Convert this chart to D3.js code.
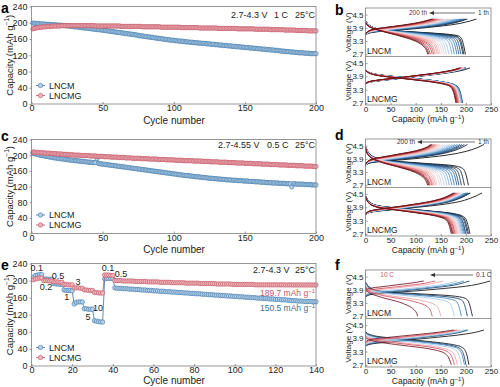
<!DOCTYPE html>
<html>
<head>
<meta charset="utf-8">
<script src="https://cdn.jsdelivr.net/npm/d3@7"></script>
<style>
  body { margin: 0; background: #fff; }
  svg { display: block; font-family: "Liberation Sans", Arial, sans-serif; }
</style>
</head>
<body>
<svg id="fig" width="500" height="387"></svg>
<script>
// ---------- cycling data (mAh g-1, one value per cycle) ----------
const aLNCM = [
  199,199,198,198,198,197,197,197,197,196, 196,196,196,195,195,195,195,194,194,194,
  194,193,193,193,192,192,192,191,191,190, 190,190,189,189,188,188,187,187,187,186,
  186,185,185,184,184,183,183,183,182,182, 181,181,180,180,179,179,178,178,177,177,
  176,176,175,175,174,174,173,173,172,172, 171,171,170,170,169,168,168,167,167,166,
  166,165,165,164,164,163,163,162,162,161, 161,160,160,159,159,158,158,157,157,157,
  156,156,155,155,155,154,154,153,153,153, 152,152,152,151,151,151,150,150,150,149,
  149,149,148,148,148,147,147,147,146,146, 146,145,145,145,144,144,144,143,143,143,
  142,142,142,141,141,141,140,140,140,139, 139,139,138,138,138,137,137,137,136,136,
  136,135,135,135,134,134,134,133,133,133, 132,132,132,131,131,130,130,130,129,129,
  129,128,128,128,127,127,127,126,126,126, 126,125,125,125,125,124,124,124,124,124
];
const aLNCMG = [
  185,186,187,188,188,189,189,190,190,190, 191,191,191,191,192,192,192,192,192,192,
  193,193,193,193,193,193,193,193,193,193, 193,193,193,193,193,193,193,193,193,193,
  193,193,193,193,192,192,192,192,192,192, 192,192,192,192,192,192,192,192,192,192,
  192,192,191,191,191,191,191,191,191,191, 191,191,191,191,191,191,191,190,190,190,
  190,190,190,190,190,190,190,190,190,190, 189,189,189,189,189,189,189,189,189,189,
  189,189,189,189,188,188,188,188,188,188, 188,188,188,188,188,188,188,187,187,187,
  187,187,187,187,187,187,187,187,187,187, 186,186,186,186,186,186,186,186,186,186,
  186,186,186,186,185,185,185,185,185,185, 185,185,185,185,185,185,184,184,184,184,
  184,184,184,184,184,184,184,183,183,183, 183,183,183,183,183,183,183,182,182,182,
  182,182,182,182,182,181,181,181,181,181, 181,181,181,180,180,180,180,180,180,180
];
const cLNCM = [
  205,204,203,202,201,200,199,199,198,197, 197,196,195,195,194,193,193,192,192,191,
  191,190,190,189,189,188,188,187,187,186, 186,186,185,185,184,184,184,183,183,182,
  182,182,181,181,181,191,179,178,178,177, 177,176,176,175,175,174,174,173,173,172,
  172,171,171,170,170,169,169,168,168,167, 167,166,166,165,165,164,164,163,163,162,
  162,161,161,160,160,159,159,158,158,157, 157,156,156,155,155,154,154,153,153,152,
  152,151,151,150,150,149,149,148,148,148, 147,147,146,146,145,145,145,144,144,143,
  143,143,142,142,141,141,141,140,140,140, 139,139,139,138,138,138,137,137,137,137,
  136,136,136,136,135,135,135,135,134,134, 134,134,133,133,133,133,132,132,132,132,
  131,131,131,131,130,130,130,130,129,129, 129,129,129,128,128,128,128,128,127,127,
  127,127,119,127,127,126,126,126,126,126, 126,125,125,125,125,125,124,124,124,124
];
const cLNCMG = [
  208,208,207,207,207,206,206,206,206,205, 205,205,205,204,204,204,204,203,203,203,
  203,202,202,202,202,201,201,201,201,200, 200,200,200,200,199,199,199,199,199,199,
  198,198,198,198,198,197,197,197,197,197, 196,196,196,196,196,195,195,195,195,195,
  194,194,194,194,194,193,193,193,193,193, 192,192,192,192,192,192,191,191,191,191,
  191,191,190,190,190,190,190,190,189,189, 189,189,189,189,188,188,188,188,188,188,
  187,187,187,187,187,187,186,186,186,186, 186,186,186,185,185,185,185,185,185,184,
  184,184,184,184,184,183,183,183,183,183, 183,182,182,182,182,182,182,181,181,181,
  181,181,181,180,180,180,180,180,180,179, 179,179,179,179,179,178,178,178,178,178,
  178,177,177,177,177,177,177,176,176,176, 176,176,176,175,175,175,175,175,175,174,
  174,174,174,174,174,173,173,173,173,173, 173,172,172,172,172,172,172,171,171,171
];
const eLNCM = [
  208,212,213,214,214, 204,204,203,203,203, 193,192,192,191,191, 178,177,177,177,176,
  145,149,150,150,150, 134,134,133,133,133, 106,105,104,103,103, 204,205,205,205,205,
  183,182,182,182,181,181,181,180,180,180, 179,179,179,178,178,178,177,177,177,176,
  176,176,175,175,175,174,174,174,173,173, 173,172,172,172,171,171,171,170,170,170,
  169,169,169,168,168,168,167,167,167,166, 166,166,165,165,165,164,164,164,163,163,
  163,162,162,162,161,161,161,160,160,160, 159,159,159,158,158,158,157,157,157,156,
  156,156,155,155,155,154,154,153,153,153, 152,152,152,151,151,151,151,151,150.5,150.5
];
const eLNCMG = [
  202,204,205,206,206, 200,200,200,199,199, 197,197,197,196,196, 191,191,190,190,190,
  183,183,183,182,182, 178,178,177,177,177, 172,172,171,171,171, 213,213,213,212,212,
  200,200,200,200,199,199,199,199,199,199, 198,198,198,198,198,198,197,197,197,197,
  197,197,196,196,196,196,196,196,195,195, 195,195,195,195,195,194,194,194,194,194,
  194,194,193,193,193,193,193,193,193,193, 192,192,192,192,192,192,192,192,191,191,
  191,191,191,191,191,191,191,191,191,190, 190,190,190,190,190,190,190,190,190,190,
  190,190,190,190,189.9,189.9,189.9,189.8,189.8,189.8, 189.8,189.8,189.8,189.8,189.7,189.7,189.7,189.7,189.7,189.7
];
const capTicks = [0, 40, 80, 120, 160, 200, 240];

// rate labels of panel e: text, cycle, capacity where the label sits
const rateText = ['0.1', '0.2', '0.5', '1', '3', '5', '10', '0.1', '0.5'];
const rateCycle = [2.6, 7.1, 13, 17.3, 22.9, 27.8, 32.7, 37.6, 44];
const rateCap = [229, 186, 211, 162, 197, 116, 136, 229, 215];

// ---------- voltage profiles ----------
// fractional capacity grids for discharge and charge
const disGrid = [0, 0.02, 0.05, 0.1, 0.2, 0.35, 0.5, 0.65, 0.8, 0.88, 0.93, 0.96, 0.98, 1];
const chgGrid = [0, 0.03, 0.1, 0.25, 0.4, 0.55, 0.7, 0.85, 0.95, 1];
const profCycles = [1, 10, 20, 30, 40, 50, 60, 70, 80, 90, 100, 110, 120, 130, 140, 150, 160, 170, 180, 190, 200];

// b, LNCM
const bM_dis = [199,196,194,190,186,182,177,172,166,161,157,153,149,146,143,139,136,133,129,126,124];
const bM_chg = [221,203,200,197,193,189,184,179,174,169,165,161,157,154,151,147,144,141,137,135,133];
const bM_disFirst = [4.22,4.1,3.98,3.88,3.8,3.75,3.71,3.67,3.62,3.58,3.53,3.42,3.15,2.7];
const bM_disLast  = [4.15,4.05,3.97,3.9,3.8,3.68,3.57,3.45,3.3,3.18,3.07,2.97,2.87,2.7];
const bM_chgFirst = [3.58,3.66,3.72,3.78,3.84,3.91,3.99,4.1,4.22,4.3];
const bM_chgLast  = [3.62,3.72,3.82,3.9,3.96,4.02,4.09,4.18,4.26,4.3];
// b, LNCMG
const bG_dis = [185,190,192,193,193,192,192,191,190,189,189,188,187,186,186,185,184,183,182,181,180];
const bG_chg = [208,197,199,200,200,199,199,198,197,196,196,195,194,193,193,192,191,190,189,188,187];
const bG_disFirst = [4.2,4.12,4.06,4.0,3.94,3.87,3.81,3.74,3.65,3.58,3.5,3.38,3.15,2.7];
const bG_disLast  = [4.18,4.1,4.03,3.97,3.9,3.83,3.76,3.69,3.6,3.53,3.45,3.32,3.1,2.7];
const bG_chgFirst = [3.55,3.62,3.68,3.76,3.84,3.92,4.0,4.1,4.2,4.28];
const bG_chgLast  = [3.58,3.65,3.71,3.79,3.86,3.94,4.02,4.12,4.21,4.28];
// d, LNCM
const dM_dis = [205,197,191,186,182,177,172,167,162,157,152,148,143,140,137,134,132,129,127,126,124];
const dM_chg = [236,203,197,192,188,183,178,173,168,163,158,154,149,146,143,140,138,135,133,132,130];
const dM_disFirst = [4.45,4.25,4.08,3.95,3.84,3.77,3.72,3.67,3.62,3.57,3.5,3.38,3.12,2.7];
const dM_disLast  = [4.4,4.2,4.05,3.93,3.8,3.66,3.55,3.43,3.28,3.16,3.05,2.95,2.85,2.7];
const dM_chgFirst = [3.6,3.7,3.76,3.83,3.9,3.98,4.08,4.24,4.42,4.55];
const dM_chgLast  = [3.65,3.78,3.88,3.98,4.06,4.14,4.22,4.33,4.45,4.55];
// d, LNCMG
const dG_dis = [208,205,203,200,199,197,195,193,191,189,188,186,184,183,181,179,178,176,174,173,171];
const dG_chg = [232,209,207,204,203,201,199,197,195,193,192,190,188,187,185,183,182,180,178,177,175];
const dG_disFirst = [4.42,4.25,4.1,4.0,3.92,3.85,3.79,3.72,3.65,3.58,3.5,3.38,3.12,2.7];
const dG_disLast  = [4.38,4.2,4.05,3.95,3.86,3.78,3.7,3.62,3.52,3.44,3.35,3.22,3.02,2.7];
const dG_chgFirst = [3.58,3.66,3.72,3.8,3.88,3.96,4.06,4.22,4.42,4.55];
const dG_chgLast  = [3.6,3.7,3.78,3.87,3.95,4.04,4.14,4.28,4.44,4.55];
// f, rate profiles 0.1 C ... 10 C
const rates = ['0.1', '0.2', '0.5', '1', '3', '5', '10'];
const rateWeight = [0, 0.1, 0.2, 0.35, 0.6, 0.75, 1];
const fM_dis = [213,203,191,177,150,133,104];
const fM_chg = [248,207,196,182,155,139,116];
const fM_disFirst = [4.25,4.1,3.97,3.88,3.81,3.76,3.72,3.68,3.63,3.58,3.52,3.4,3.12,2.7];
const fM_disLast  = [4.0,3.88,3.8,3.73,3.64,3.53,3.44,3.34,3.2,3.1,3.0,2.92,2.84,2.7];
const fM_chgFirst = [3.58,3.67,3.73,3.79,3.85,3.92,4.0,4.1,4.22,4.3];
const fM_chgLast  = [3.85,3.93,3.98,4.03,4.08,4.13,4.18,4.23,4.28,4.3];
const fG_dis = [206,200,197,191,183,177,171];
const fG_chg = [236,204,201,196,188,182,176];
const fG_disFirst = [4.2,4.12,4.06,4.0,3.94,3.87,3.81,3.74,3.65,3.58,3.5,3.38,3.15,2.7];
const fG_disLast  = [3.95,3.88,3.82,3.77,3.7,3.62,3.55,3.48,3.38,3.3,3.2,3.08,2.92,2.7];
const fG_chgFirst = [3.55,3.62,3.68,3.76,3.84,3.92,4.0,4.1,4.2,4.28];
const fG_chgLast  = [3.72,3.82,3.88,3.94,4.0,4.06,4.12,4.19,4.25,4.28];

const voltTicks = [2.7, 3.3, 3.9, 4.5];
const profCapTicks = [0, 50, 100, 150, 200, 250];

// ---------- style ----------
const frameColor = '#7d7d7d';
const ink = '#222';
const blue = { stroke: '#3a74a6', fill: '#b5d2ea' };
const red = { stroke: '#c0505f', fill: '#f1b6bd' };
const cyclePalette = ['#151515', '#1d4a78', '#4a8cc6', '#b5d4ee', '#f5d6d6', '#ec9a9a', '#c9484f', '#6a1418'];
const ratePalette = ['#1c1c24', '#1f4a70', '#4b8ac0', '#a6cbe8', '#f0a8ae', '#d25a66', '#7d1f2e'];

const svg = d3.select('#fig');

function capLabel(text, fs, pre, close = true) {
  text.append('tspan').text(pre);
  text.append('tspan').attr('dy', -fs * 0.38).attr('font-size', fs * 0.7).text('\u22121');
  if (close) text.append('tspan').attr('dy', fs * 0.38).text(')');
}

function styleAxis(g, fs) {
  g.select('.domain').remove();
  g.selectAll('.tick line').attr('stroke', frameColor).attr('stroke-width', 0.8);
  g.selectAll('.tick text').attr('fill', ink).attr('font-size', fs)
    .attr('font-family', '"Liberation Sans", Arial, sans-serif');
}

// ---------- cycling panels a, c, e ----------
function cyclePanel(o) {
  const x = d3.scaleLinear().domain([0, o.xmax]).range([31.5, 316]);
  const y = d3.scaleLinear().domain([0, 240]).range([o.bottom, o.top]);
  const g = svg.append('g');

  const gx = g.append('g').attr('transform', `translate(0,${o.bottom})`)
    .call(d3.axisBottom(x).tickValues(o.xticks).tickSize(-2).tickPadding(1));
  styleAxis(gx, 9);
  const gy = g.append('g').attr('transform', `translate(${x(0)},0)`)
    .call(d3.axisLeft(y).tickValues(capTicks).tickSize(2).tickPadding(2));
  styleAxis(gy, 9);

  const line = d3.line().x(d => x(d[0])).y(d => y(d[1]));
  [[o.blue, blue], [o.red, red]].forEach(([vals, c]) => {
    const pts = vals.map((v, i) => [i + 1, v]);
    g.append('path').attr('d', line(pts)).attr('fill', 'none')
      .attr('stroke', c.stroke).attr('stroke-width', 0.8);
    g.append('g').selectAll('circle').data(pts).join('circle')
      .attr('cx', d => x(d[0])).attr('cy', d => y(d[1])).attr('r', 2.2)
      .attr('fill', c.fill).attr('stroke', c.stroke).attr('stroke-width', 0.6);
  });

  g.append('rect').attr('x', x(0)).attr('y', o.top)
    .attr('width', x(o.xmax) - x(0)).attr('height', o.bottom - o.top)
    .attr('fill', 'none').attr('stroke', frameColor).attr('stroke-width', 0.8);

  // legend
  [['LNCM', blue, o.bottom - 18.5], ['LNCMG', red, o.bottom - 8.5]].forEach(([name, c, ly]) => {
    g.append('line').attr('x1', 36).attr('x2', 45).attr('y1', ly).attr('y2', ly)
      .attr('stroke', c.stroke).attr('stroke-width', 0.8);
    g.append('circle').attr('cx', 40.5).attr('cy', ly).attr('r', 2.2)
      .attr('fill', c.fill).attr('stroke', c.stroke).attr('stroke-width', 0.6);
    g.append('text').attr('x', 49).attr('y', ly).attr('dy', '0.35em')
      .attr('font-size', 9).attr('fill', ink).text(name);
  });

  // conditions
  o.cond.forEach(([t, cx]) => {
    g.append('text').attr('x', cx).attr('y', o.condY).attr('font-size', 9).attr('fill', ink).text(t);
  });

  // axis titles and letter
  g.append('text').attr('x', 174).attr('y', o.titleY).attr('text-anchor', 'middle')
    .attr('font-size', 10).attr('fill', ink).text('Cycle number');
  const yl = g.append('text').attr('transform', 'rotate(-90)')
    .attr('x', -(o.top + o.bottom) / 2).attr('y', 13).attr('text-anchor', 'middle')
    .attr('font-size', 9.5).attr('fill', ink);
  capLabel(yl, 9.5, 'Capacity (mAh g');
  g.append('text').attr('x', 1).attr('y', o.letterY).attr('font-size', 14)
    .attr('font-weight', 'bold').attr('fill', '#000').text(o.letter);
  return { g, x, y };
}

cyclePanel({ letter: 'a', letterY: 12.5, top: 6.5, bottom: 104, xmax: 200,
  xticks: [0, 50, 100, 150, 200], blue: aLNCM, red: aLNCMG, titleY: 123.5,
  cond: [['2.7-4.3 V', 231], ['1 C', 274], ['25°C', 295]], condY: 18 });
cyclePanel({ letter: 'c', letterY: 141, top: 139.5, bottom: 233.5, xmax: 200,
  xticks: [0, 50, 100, 150, 200], blue: cLNCM, red: cLNCMG, titleY: 253,
  cond: [['2.7-4.55 V', 218], ['0.5 C', 267], ['25°C', 295]], condY: 148 });
const pe = cyclePanel({ letter: 'e', letterY: 270, top: 263.5, bottom: 366, xmax: 140,
  xticks: d3.range(0, 141, 20), blue: eLNCM, red: eLNCMG, titleY: 383.5,
  cond: [['2.7-4.3 V', 253], ['25°C', 295]], condY: 273 });

rateText.forEach((t, i) => {
  pe.g.append('text').attr('x', pe.x(rateCycle[i])).attr('y', pe.y(rateCap[i]))
    .attr('dy', '0.35em').attr('text-anchor', 'middle').attr('font-size', 9)
    .attr('fill', ink).text(t);
});
const t1 = pe.g.append('text').attr('x', pe.x(139.5)).attr('y', pe.y(171)).attr('dy', '0.35em')
  .attr('text-anchor', 'end').attr('font-size', 8.5).attr('fill', '#c4566b');
capLabel(t1, 8.5, '189.7 mAh g', false);
const t2 = pe.g.append('text').attr('x', pe.x(139.5)).attr('y', pe.y(134.7)).attr('dy', '0.35em')
  .attr('text-anchor', 'end').attr('font-size', 8.5).attr('fill', '#3e6f99');
capLabel(t2, 8.5, '150.5 mAh g', false);

// ---------- voltage profile panels b, d, f ----------
function blend(grid, vFirst, vLast, w, cap) {
  return grid.map((q, k) => [q * cap, vFirst[k] + w * (vLast[k] - vFirst[k])]);
}

function profilePanel(o) {
  const x = d3.scaleLinear().domain([0, 250]).range([365.5, 491]);
  const g = svg.append('g');
  const mid = (o.top + o.bottom) / 2;
  const halves = [[o.top, mid, o.upper, 'LNCM'], [mid, o.bottom, o.lower, 'LNCMG']];

  halves.forEach(([t, b, s, name]) => {
    const y = d3.scaleLinear().domain([2.6, 4.8]).range([b, t]);
    const line = d3.line().x(d => x(d[0])).y(d => y(d[1])).curve(d3.curveMonotoneX);
    const color = d3.piecewise(d3.interpolateRgb, o.palette);
    s.dis.forEach((cap, i) => {
      const col = color(i / (s.dis.length - 1));
      const w = o.weights[i];
      g.append('path').attr('d', line(blend(chgGrid, s.chgFirst, s.chgLast, w, s.chg[i])))
        .attr('fill', 'none').attr('stroke', col).attr('stroke-width', 0.9);
      g.append('path').attr('d', line(blend(disGrid, s.disFirst, s.disLast, w, cap)))
        .attr('fill', 'none').attr('stroke', col).attr('stroke-width', 0.9);
    });
    const gy = g.append('g').attr('transform', `translate(${x(0)},0)`)
      .call(d3.axisLeft(y).tickValues(voltTicks).tickSize(-2).tickPadding(2).tickFormat(d3.format('.1f')));
    styleAxis(gy, 8);
    g.append('text').attr('transform', 'rotate(-90)').attr('x', -(t + b) / 2).attr('y', 350.5)
      .attr('text-anchor', 'middle').attr('font-size', 8).attr('fill', ink).text('Voltage (V)');
    g.append('text').attr('x', 367).attr('y', b - 3).attr('font-size', 8.5).attr('fill', ink).text(name);
  });

  const gx = g.append('g').attr('transform', `translate(0,${o.bottom})`)
    .call(d3.axisBottom(x).tickValues(profCapTicks).tickSize(-2).tickPadding(1.5));
  styleAxis(gx, 8);

  g.append('rect').attr('x', x(0)).attr('y', o.top).attr('width', x(250) - x(0))
    .attr('height', o.bottom - o.top).attr('fill', 'none')
    .attr('stroke', frameColor).attr('stroke-width', 0.8);
  g.append('line').attr('x1', x(0)).attr('x2', x(250)).attr('y1', mid).attr('y2', mid)
    .attr('stroke', frameColor).attr('stroke-width', 0.8);

  const xl = g.append('text').attr('x', 428).attr('y', o.bottom + 17).attr('text-anchor', 'middle')
    .attr('font-size', 8.5).attr('fill', ink);
  capLabel(xl, 8.5, 'Capacity (mAh g');
  g.append('text').attr('x', 335).attr('y', o.letterY).attr('font-size', 14)
    .attr('font-weight', 'bold').attr('fill', '#000').text(o.letter);

  // arrow annotation
  const a = o.arrow;
  g.append('line').attr('x1', a.x1).attr('x2', a.x0 + 4).attr('y1', a.y).attr('y2', a.y)
    .attr('stroke', '#333').attr('stroke-width', 0.7);
  g.append('path').attr('d', `M${a.x0},${a.y}l5,-2v4z`).attr('fill', '#333');
  g.append('text').attr('x', a.leftX).attr('y', a.y + 2.2).attr('text-anchor', 'end')
    .attr('font-size', 6.5).attr('fill', a.leftColor).text(a.left);
  g.append('text').attr('x', a.x1 + 3).attr('y', a.y + 2.2)
    .attr('font-size', 6.5).attr('fill', '#333').text(a.right);
}

const cycleWeights = profCycles.map(c => (c - 1) / 199);

profilePanel({ letter: 'b', letterY: 15, top: 8, bottom: 105, palette: cyclePalette, weights: cycleWeights,
  upper: { dis: bM_dis, chg: bM_chg, disFirst: bM_disFirst, disLast: bM_disLast, chgFirst: bM_chgFirst, chgLast: bM_chgLast },
  lower: { dis: bG_dis, chg: bG_chg, disFirst: bG_disFirst, disLast: bG_disLast, chgFirst: bG_chgFirst, chgLast: bG_chgLast },
  arrow: { x0: 429, x1: 475, y: 13, leftX: 427, left: '200 th', right: '1 th', leftColor: '#6b2a3a' } });
profilePanel({ letter: 'd', letterY: 140, top: 139, bottom: 236, palette: cyclePalette, weights: cycleWeights,
  upper: { dis: dM_dis, chg: dM_chg, disFirst: dM_disFirst, disLast: dM_disLast, chgFirst: dM_chgFirst, chgLast: dM_chgLast },
  lower: { dis: dG_dis, chg: dG_chg, disFirst: dG_disFirst, disLast: dG_disLast, chgFirst: dG_chgFirst, chgLast: dG_chgLast },
  arrow: { x0: 417, x1: 475, y: 142, leftX: 415, left: '200 th', right: '1 th', leftColor: '#333' } });
profilePanel({ letter: 'f', letterY: 270, top: 270, bottom: 367, palette: ratePalette, weights: rateWeight,
  upper: { dis: fM_dis, chg: fM_chg, disFirst: fM_disFirst, disLast: fM_disLast, chgFirst: fM_chgFirst, chgLast: fM_chgLast },
  lower: { dis: fG_dis, chg: fG_chg, disFirst: fG_disFirst, disLast: fG_disLast, chgFirst: fG_chgFirst, chgLast: fG_chgLast },
  arrow: { x0: 430, x1: 473, y: 275, leftX: 394, left: '10 C', right: '0.1 C', leftColor: '#c9586a' } });
</script>
</body>
</html>
